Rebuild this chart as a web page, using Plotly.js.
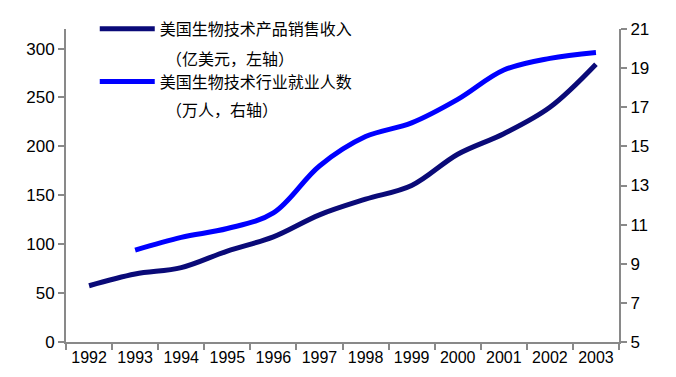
<!DOCTYPE html>
<html>
<head>
<meta charset="utf-8">
<script src="https://cdn.plot.ly/plotly-3.0.1.min.js"></script>
<style>html,body{margin:0;padding:0;background:#fff;}#chart{width:676px;height:377px;}</style>
</head>
<body>
<div id="chart"></div>
<script>
const years = ['1992','1993','1994','1995','1996','1997','1998','1999','2000','2001','2002','2003'];
const salesRevenue = [57.5, 69.5, 76, 93, 107.5, 130, 146, 160, 192, 213, 240, 284];
const employment = [null, 9.7, 10.35, 10.8, 11.6, 14.0, 15.5, 16.2, 17.4, 18.9, 19.5, 19.8];
const name1 = '美国生物技术产品销售收入';
const unit1 = '（亿美元，左轴）';
const name2 = '美国生物技术行业就业人数';
const unit2 = '（万人，右轴）';

const traces = [
  {x: years, y: salesRevenue, name: name1, legendgroup: 'a', type: 'scatter', mode: 'lines',
   line: {color: '#0a0a78', width: 5, shape: 'spline', smoothing: 1}, yaxis: 'y'},
  {x: years, y: employment, name: name2, legendgroup: 'b', type: 'scatter', mode: 'lines',
   line: {color: '#0000ff', width: 5, shape: 'spline', smoothing: 1}, yaxis: 'y2', connectgaps: false}
];

const axisCommon = {showgrid: false, zeroline: false, showline: true, linecolor: '#898989', linewidth: 2,
  ticks: 'outside', tickcolor: '#898989', tickwidth: 2, ticklen: 6,
  tickfont: {family: 'Liberation Sans, Arial, sans-serif', size: 17, color: '#000'}};

const legFont = {family: 'Noto Sans CJK SC', size: 16, color: '#000'};

const layout = {
  width: 676, height: 377,
  margin: {l: 66, r: 57, t: 29, b: 35, autoexpand: false},
  paper_bgcolor: '#fff', plot_bgcolor: '#fff',
  showlegend: true,
  legend: {x: 0.052, y: 1.055, xanchor: 'left', yanchor: 'top', bgcolor: 'rgba(0,0,0,0)',
    font: legFont, itemwidth: 55, valign: 'top', tracegroupgap: 29},
  annotations: [
    {xref: 'paper', yref: 'paper', x: 0.178, y: (342 - 58) / 313, xanchor: 'left', yanchor: 'middle',
     text: unit1, showarrow: false, font: legFont},
    {xref: 'paper', yref: 'paper', x: 0.178, y: (342 - 109) / 313, xanchor: 'left', yanchor: 'middle',
     text: unit2, showarrow: false, font: legFont}
  ],
  xaxis: Object.assign({}, axisCommon, {type: 'category', tickson: 'boundaries', range: [-0.5, 11.5],
    tickfont: {family: 'Liberation Sans, Arial, sans-serif', size: 16, color: '#000'}}),
  yaxis: Object.assign({}, axisCommon, {range: [0, 320], tick0: 0, dtick: 50}),
  yaxis2: Object.assign({}, axisCommon, {overlaying: 'y', side: 'right', range: [5, 21], tick0: 5, dtick: 2})
};

Plotly.newPlot('chart', traces, layout, {displayModeBar: false, staticPlot: true});
</script>
</body>
</html>
